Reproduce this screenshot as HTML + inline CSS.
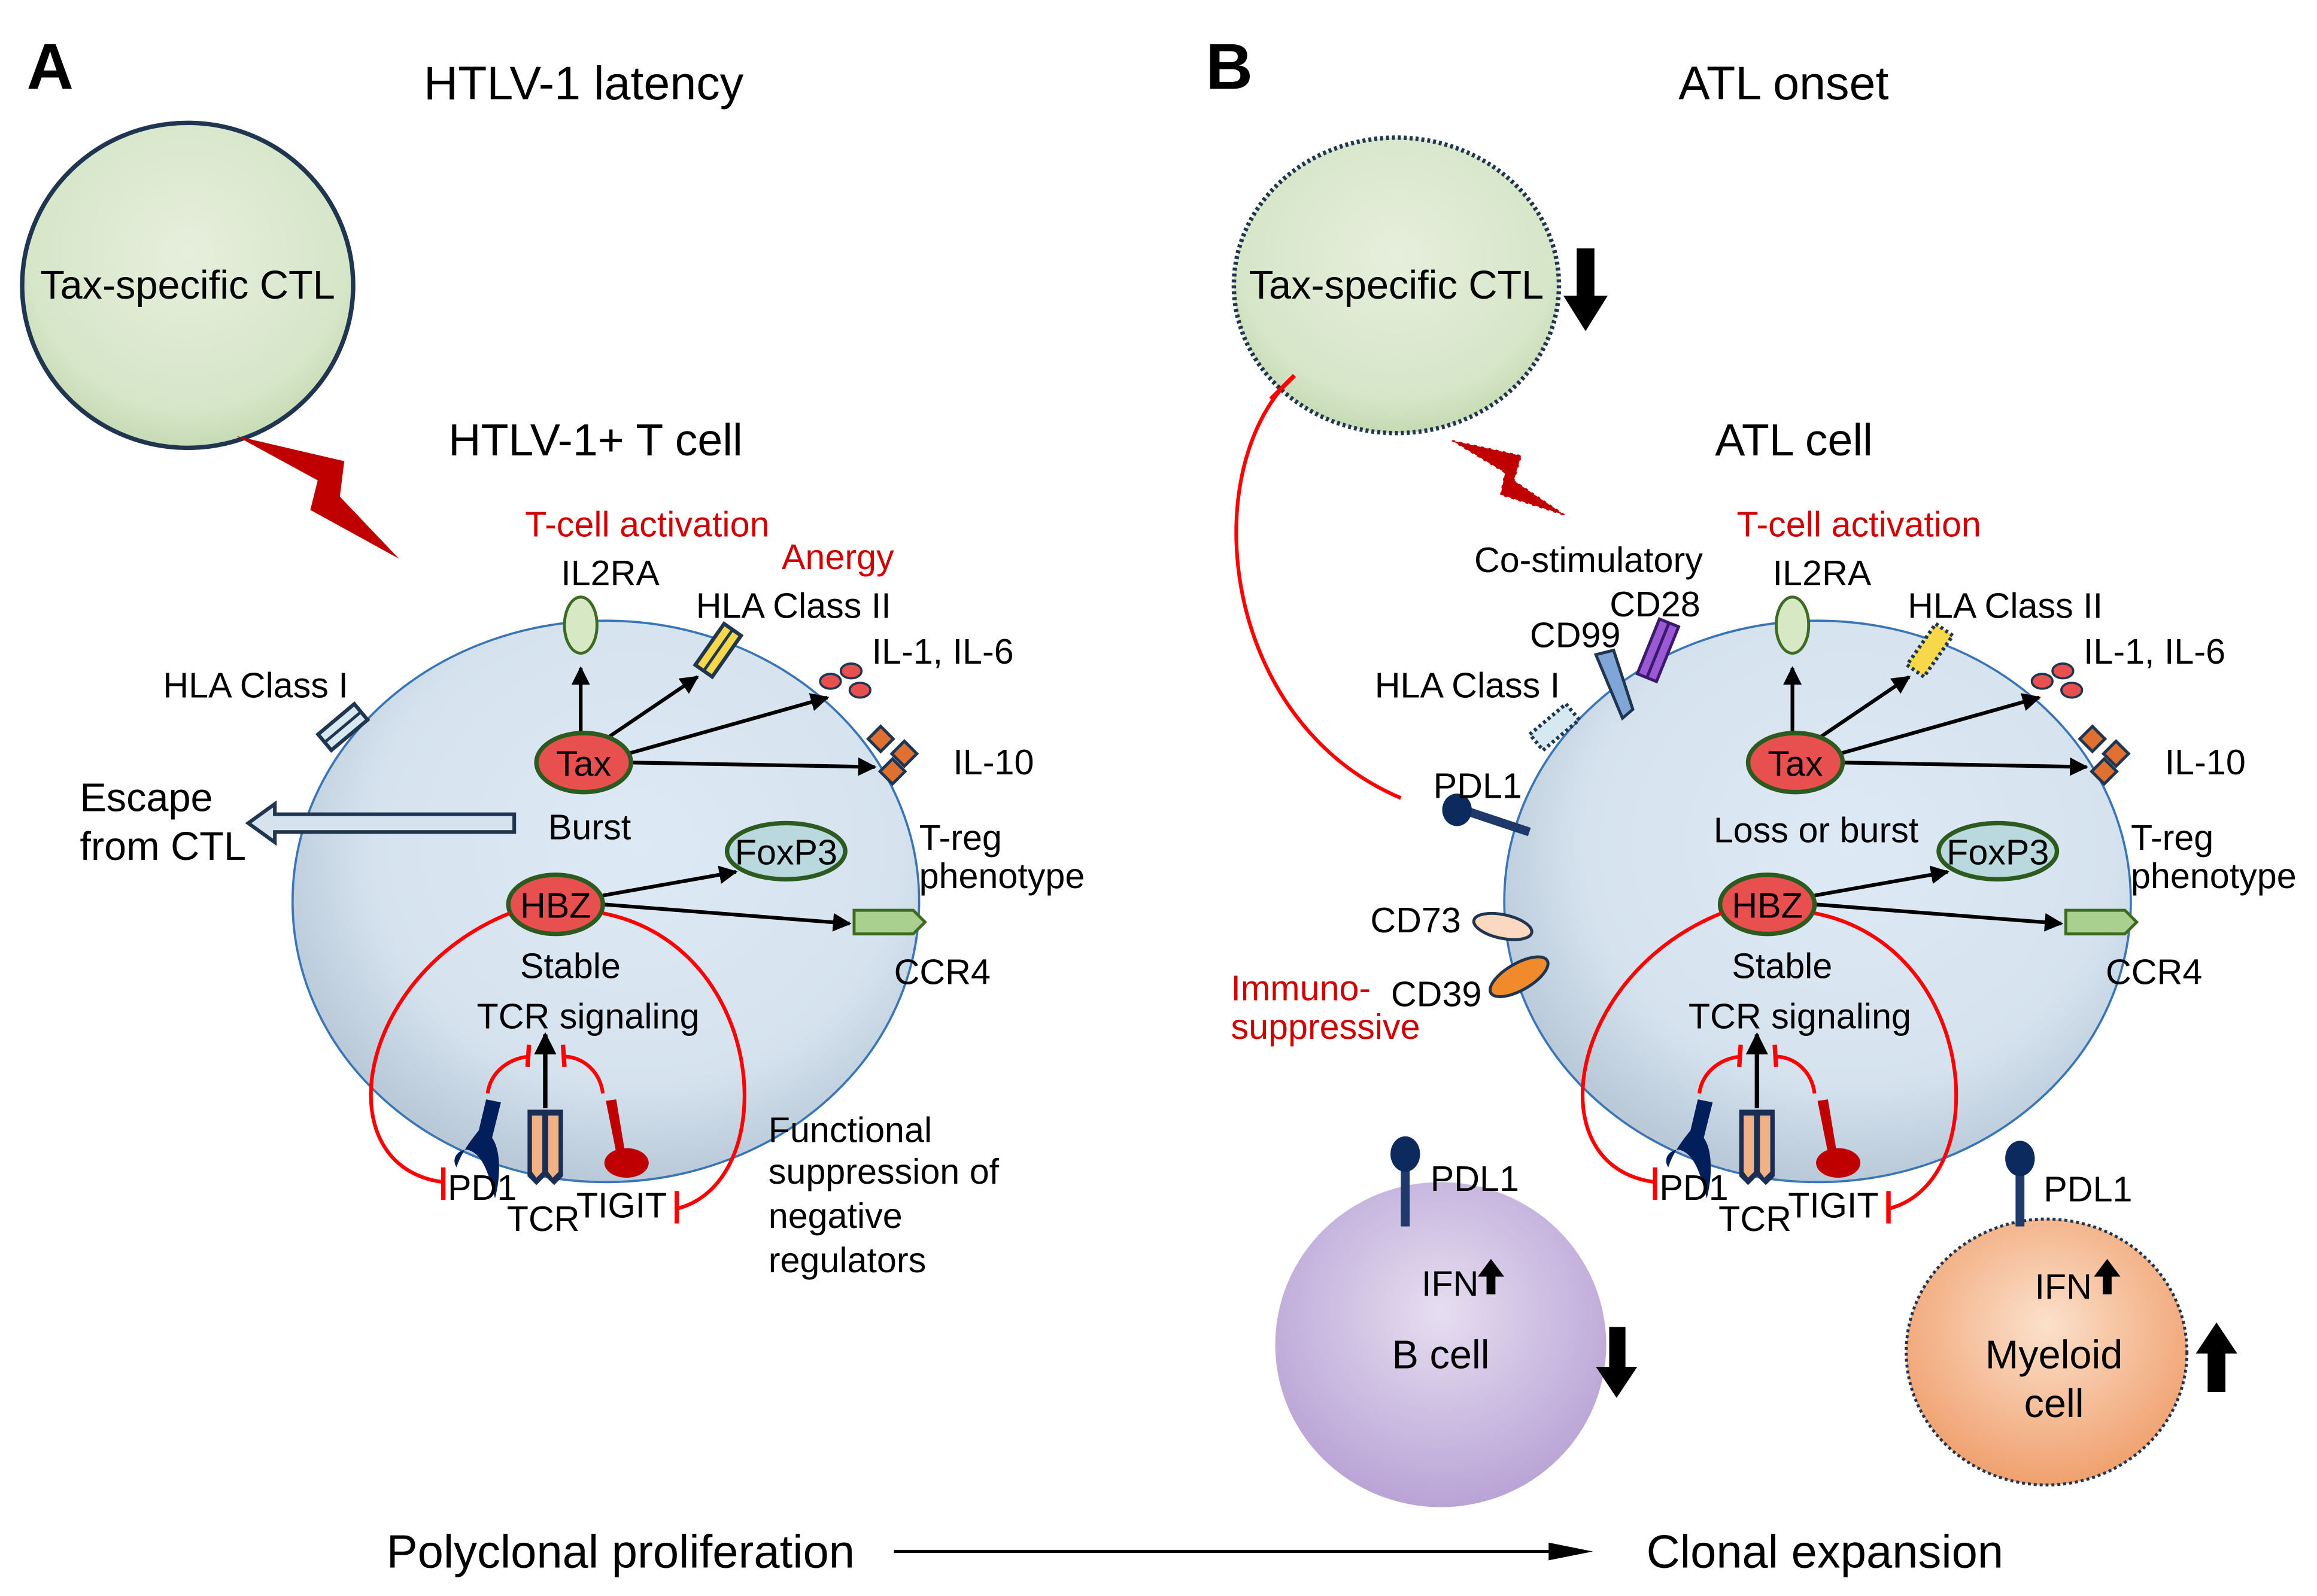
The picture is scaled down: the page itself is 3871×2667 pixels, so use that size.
<!DOCTYPE html>
<html><head><meta charset="utf-8"><style>
html,body{margin:0;padding:0;background:#fff}
svg{display:block}
text{font-family:"Liberation Sans",Arial,sans-serif;fill:#000}
</style></head><body>
<svg width="3871" height="2667" viewBox="0 0 1568 1080" xmlns="http://www.w3.org/2000/svg">
<defs>
<radialGradient id="gCTL" cx="50%" cy="40%" r="60%"><stop offset="0" stop-color="#e6efdd"/><stop offset="0.8" stop-color="#d6e6c8"/><stop offset="1" stop-color="#c6dab4"/></radialGradient>
<radialGradient id="gCell" cx="55%" cy="40%" r="60%"><stop offset="0" stop-color="#dde9f5"/><stop offset="0.7" stop-color="#d6e3ef"/><stop offset="1" stop-color="#b9c9d8"/></radialGradient>
<radialGradient id="gB" cx="50%" cy="40%" r="60%"><stop offset="0" stop-color="#e6def0"/><stop offset="1" stop-color="#b9a3d6"/></radialGradient>
<radialGradient id="gM" cx="50%" cy="40%" r="60%"><stop offset="0" stop-color="#fbe1cc"/><stop offset="1" stop-color="#f0a06e"/></radialGradient>
<marker id="ar" viewBox="0 0 10 10" refX="9" refY="5" markerWidth="5" markerHeight="5" orient="auto"><path d="M0,0L10,5L0,10z" fill="#000"/></marker>
<g id="il1"><ellipse cx="0" cy="0" rx="7" ry="5" fill="#e8504f" stroke="#1f3550" stroke-width="1.5"/><ellipse cx="14" cy="-7" rx="7" ry="5" fill="#e8504f" stroke="#1f3550" stroke-width="1.5"/><ellipse cx="20" cy="6" rx="7" ry="5" fill="#e8504f" stroke="#1f3550" stroke-width="1.5"/></g>
<g id="inner">
 <line x1="393" y1="496" x2="393" y2="452" stroke="#000" stroke-width="2.5" marker-end="url(#ar)"/>
 <line x1="410" y1="500" x2="472" y2="458" stroke="#000" stroke-width="2.5" marker-end="url(#ar)"/>
 <line x1="425" y1="510" x2="560" y2="472" stroke="#000" stroke-width="2.5" marker-end="url(#ar)"/>
 <line x1="427" y1="516" x2="592" y2="519" stroke="#000" stroke-width="2.5" marker-end="url(#ar)"/>
 <ellipse cx="395" cy="516" rx="32" ry="20" fill="#e8504f" stroke="#2d5a1e" stroke-width="3"/>
 <text x="395" y="525" font-size="24" text-anchor="middle">Tax</text>
 <ellipse cx="393" cy="423" rx="11" ry="19" fill="#d7e9c4" stroke="#3d6b22" stroke-width="2"/>
 <text x="413" y="396" font-size="24" text-anchor="middle">IL2RA</text>
 <text x="438" y="363" font-size="24" text-anchor="middle" style="fill:#d00000">T-cell activation</text>
 <use href="#il1" x="562" y="461"/>
 <g transform="translate(596,500)"><rect x="-6" y="-6" width="12" height="12" transform="rotate(45)" fill="#e07030" stroke="#1f3550" stroke-width="2"/></g>
 <g transform="translate(612,510)"><rect x="-6" y="-6" width="12" height="12" transform="rotate(45)" fill="#e07030" stroke="#1f3550" stroke-width="2"/></g>
 <g transform="translate(604,522)"><rect x="-6" y="-6" width="12" height="12" transform="rotate(45)" fill="#e07030" stroke="#1f3550" stroke-width="2"/></g>
 <text x="590" y="449" font-size="24">IL-1, IL-6</text>
 <text x="645" y="524" font-size="24">IL-10</text>
 <line x1="408" y1="606" x2="498" y2="590" stroke="#000" stroke-width="2.5" marker-end="url(#ar)"/>
 <line x1="408" y1="612" x2="575" y2="625" stroke="#000" stroke-width="2.5" marker-end="url(#ar)"/>
 <ellipse cx="376" cy="612" rx="32" ry="20" fill="#e8504f" stroke="#2d5a1e" stroke-width="3"/>
 <text x="376" y="621" font-size="24" text-anchor="middle">HBZ</text>
 <ellipse cx="532" cy="576" rx="40" ry="19" fill="#b9d9df" stroke="#2d5a1e" stroke-width="3"/>
 <text x="532" y="585" font-size="24" text-anchor="middle">FoxP3</text>
 <path d="M578,616 L618,616 L626,624 L618,632 L578,632z" fill="#a9d08e" stroke="#3d6b22" stroke-width="2"/>
 <text x="622" y="575" font-size="24">T-reg</text>
 <text x="622" y="601" font-size="24">phenotype</text>
 <text x="605" y="666" font-size="24">CCR4</text>
 <text x="386" y="662" font-size="24" text-anchor="middle">Stable</text>
 <text x="398" y="696" font-size="24" text-anchor="middle">TCR signaling</text>
 <path d="M345,618 C240,660 220,790 300,800" fill="none" stroke="#f00" stroke-width="2.5"/>
 <line x1="300" y1="790" x2="300" y2="812" stroke="#f00" stroke-width="3"/>
 <path d="M408,618 C520,640 530,800 458,818" fill="none" stroke="#f00" stroke-width="2.5"/>
 <line x1="458" y1="806" x2="458" y2="828" stroke="#f00" stroke-width="3"/>
 <path d="M330,740 C332,725 345,716 358,715" fill="none" stroke="#f00" stroke-width="2.5"/>
 <line x1="358" y1="707" x2="357" y2="722" stroke="#f00" stroke-width="3"/>
 <path d="M408,740 C406,725 395,716 383,715" fill="none" stroke="#f00" stroke-width="2.5"/>
 <line x1="381" y1="707" x2="382" y2="722" stroke="#f00" stroke-width="3"/>
 <line x1="369" y1="750" x2="369" y2="700" stroke="#000" stroke-width="3" marker-end="url(#ar)"/>
 <path d="M329,744 L339,746 L333,770 C340,780 338,800 335,811 C330,790 325,780 316,778 C310,778 305,784 309,790 C312,780 320,770 324,765 Z" fill="#021f5c"/>
 <path d="M357,751 L381,751 L381,796 L375,802 L369,796 L363,802 L357,796Z" fill="#1a2d55"/>
 <path d="M360,755 L367,755 L367,793 L363,797 L360,793Z M371,755 L378,755 L378,793 L374,797 L371,793Z" fill="#f2b185"/>
 <path d="M410,745 L417,744 L423,780 L417,780Z" fill="#c00000"/>
 <ellipse cx="424" cy="787" rx="15" ry="10" fill="#c00000"/>
 <text x="303" y="812" font-size="24">PD1</text>
 <text x="343" y="833" font-size="24">TCR</text>
 <text x="390" y="824" font-size="24">TIGIT</text>
</g>
</defs>

<text x="18" y="60" font-size="44" font-weight="bold">A</text>
<text x="395" y="67" font-size="32" text-anchor="middle">HTLV-1 latency</text>
<ellipse cx="127" cy="193" rx="112" ry="110" fill="url(#gCTL)" stroke="#1f3550" stroke-width="3"/>
<text x="127" y="202" font-size="27" text-anchor="middle">Tax-specific CTL</text>
<path d="M160,295 L233,312 L230,336 L270,378 L210,345 L215,325 Z" fill="#c00000"/>
<text x="403" y="308" font-size="30.5" text-anchor="middle">HTLV-1+ T cell</text>
<ellipse cx="410" cy="610" rx="212" ry="190" fill="url(#gCell)" stroke="#3a75b5" stroke-width="1.5"/>
<use href="#inner"/>
<text x="567" y="385" font-size="24" text-anchor="middle" style="fill:#d00000">Anergy</text>
<g transform="translate(486,440) rotate(35)"><rect x="-7" y="-17" width="14" height="34" fill="#f7d84a" stroke="#1f3550" stroke-width="2.5"/><line x1="0" y1="-17" x2="0" y2="17" stroke="#1f3550" stroke-width="2"/></g>
<text x="537" y="418" font-size="24" text-anchor="middle">HLA Class II</text>
<g transform="translate(232,492) rotate(50)"><rect x="-7" y="-16" width="14" height="32" fill="#d6e8f0" stroke="#1f3550" stroke-width="2.5"/><line x1="0" y1="-16" x2="0" y2="16" stroke="#1f3550" stroke-width="2"/></g>
<text x="173" y="472" font-size="24" text-anchor="middle">HLA Class I</text>
<path d="M348,551 L348,563 L186,563 L186,570 L168,557 L186,544 L186,551 Z" fill="#d6e3ef" stroke="#1f3550" stroke-width="2.5"/>
<text x="54" y="549" font-size="27">Escape</text>
<text x="54" y="582" font-size="27">from CTL</text>
<text x="399" y="568" font-size="24" text-anchor="middle">Burst</text>
<text x="520" y="773" font-size="24">Functional</text>
<text x="520" y="801" font-size="24">suppression of</text>
<text x="520" y="831" font-size="24">negative</text>
<text x="520" y="861" font-size="24">regulators</text>

<text x="816" y="60" font-size="44" font-weight="bold">B</text>
<text x="1207" y="67" font-size="32" text-anchor="middle">ATL onset</text>
<ellipse cx="945" cy="193" rx="110" ry="100" fill="url(#gCTL)" stroke="#1f3550" stroke-width="3" stroke-dasharray="2,2"/>
<text x="945" y="202" font-size="27" text-anchor="middle">Tax-specific CTL</text>
<path d="M1067,168 L1079,168 L1079,200 L1088,200 L1073,224 L1058,200 L1067,200Z" fill="#000"/>
<path d="M980,297 L1030,308 L1025,325 L1062,350 L1015,335 L1018,320Z" fill="#c00000" stroke="#fff" stroke-width="1" stroke-dasharray="3,2"/>
<text x="1214" y="308" font-size="30.5" text-anchor="middle">ATL cell</text>
<path d="M948,540 C830,490 810,330 868,262" fill="none" stroke="#f00" stroke-width="2.5"/>
<line x1="860" y1="270" x2="876" y2="254" stroke="#f00" stroke-width="3"/>
<ellipse cx="1230" cy="610" rx="212" ry="190" fill="url(#gCell)" stroke="#3a75b5" stroke-width="1.5"/>
<use href="#inner" x="820"/>
<text x="1229" y="570" font-size="24" text-anchor="middle">Loss or burst</text>
<g transform="translate(1306,440) rotate(35)"><rect x="-7" y="-17" width="14" height="34" fill="#f7d84a" stroke="#1f3550" stroke-width="2.5" stroke-dasharray="2,2"/></g>
<text x="1357" y="418" font-size="24" text-anchor="middle">HLA Class II</text>
<g transform="translate(1052,492) rotate(50)"><rect x="-7" y="-16" width="14" height="32" fill="#d6e8f0" stroke="#1f3550" stroke-width="2.5" stroke-dasharray="2,2"/></g>
<text x="993" y="472" font-size="24" text-anchor="middle">HLA Class I</text>
<path d="M1080,443 L1092,440 L1105,480 L1098,486Z" fill="#7fa6d6" stroke="#1f3550" stroke-width="2"/>
<text x="1066" y="438" font-size="24" text-anchor="middle">CD99</text>
<g transform="translate(1122,440) rotate(22)"><rect x="-7" y="-20" width="14" height="40" fill="#9b59d6" stroke="#3a1a6a" stroke-width="2"/><line x1="0" y1="-20" x2="0" y2="20" stroke="#3a1a6a" stroke-width="2"/></g>
<text x="1120" y="417" font-size="24" text-anchor="middle">CD28</text>
<text x="1075" y="387" font-size="24" text-anchor="middle">Co-stimulatory</text>
<line x1="990" y1="548" x2="1035" y2="563" stroke="#1f3a6a" stroke-width="6"/>
<ellipse cx="986" cy="548" rx="10" ry="11" fill="#0d2a5e"/>
<text x="1000" y="540" font-size="24" text-anchor="middle">PDL1</text>
<ellipse cx="1017" cy="627" rx="20" ry="8" transform="rotate(12 1017 627)" fill="#fbd9c0" stroke="#1f3550" stroke-width="2"/>
<text x="958" y="631" font-size="24" text-anchor="middle">CD73</text>
<ellipse cx="1028" cy="661" rx="22" ry="9" transform="rotate(-30 1028 661)" fill="#f08a2a" stroke="#1f3550" stroke-width="2"/>
<text x="972" y="681" font-size="24" text-anchor="middle">CD39</text>
<text x="833" y="677" font-size="24" style="fill:#d00000">Immuno-</text>
<text x="833" y="703" font-size="24" style="fill:#d00000">suppressive</text>
<ellipse cx="975" cy="910" rx="112" ry="110" fill="url(#gB)"/>
<line x1="951" y1="785" x2="951" y2="830" stroke="#1f3a6a" stroke-width="6"/>
<ellipse cx="951" cy="781" rx="10" ry="12" fill="#0d2a5e"/>
<text x="968" y="806" font-size="24">PDL1</text>
<text x="962" y="877" font-size="24">IFN</text>
<path d="M1009,852 L1018,864 L1012,864 L1012,876 L1006,876 L1006,864 L1000,864Z" fill="#000"/>
<text x="975" y="926" font-size="27" text-anchor="middle">B cell</text>
<path d="M1089,898 L1100,898 L1100,925 L1108,925 L1094,946 L1080,925 L1089,925Z" fill="#000"/>
<ellipse cx="1385" cy="915" rx="95" ry="90" fill="url(#gM)" stroke="#1f3550" stroke-width="2" stroke-dasharray="2,2"/>
<line x1="1367" y1="788" x2="1367" y2="830" stroke="#1f3a6a" stroke-width="6"/>
<ellipse cx="1367" cy="784" rx="10" ry="12" fill="#0d2a5e"/>
<text x="1383" y="813" font-size="24">PDL1</text>
<text x="1377" y="879" font-size="24">IFN</text>
<path d="M1426,852 L1435,864 L1429,864 L1429,876 L1423,876 L1423,864 L1417,864Z" fill="#000"/>
<text x="1390" y="926" font-size="27" text-anchor="middle">Myeloid</text>
<text x="1390" y="959" font-size="27" text-anchor="middle">cell</text>
<path d="M1500,895 L1514,916 L1506,916 L1506,942 L1494,942 L1494,916 L1486,916Z" fill="#000"/>
<text x="420" y="1061" font-size="31.5" text-anchor="middle">Polyclonal proliferation</text>
<line x1="605" y1="1050" x2="1060" y2="1050" stroke="#000" stroke-width="2"/>
<path d="M1048,1044 L1078,1050 L1048,1056Z" fill="#000"/>
<text x="1235" y="1061" font-size="31.5" text-anchor="middle">Clonal expansion</text>
</svg>
</body></html>
